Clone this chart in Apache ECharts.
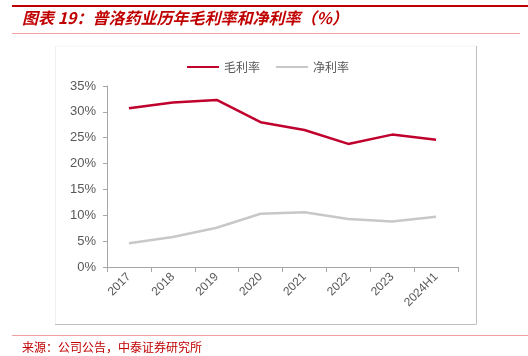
<!DOCTYPE html>
<html><head><meta charset="utf-8">
<script src="https://cdn.jsdelivr.net/npm/echarts@6/dist/echarts.min.js"></script>
<style>html,body{margin:0;padding:0;background:#fff}#c{width:528px;height:356px}</style>
</head><body><div id="c"></div>
<script>
const categories = ['2017','2018','2019','2020','2021','2022','2023','2024H1'];
const grossMargin = [30.7, 31.8, 32.3, 28.0, 26.5, 23.8, 25.6, 24.6];
const netMargin = [4.6, 5.8, 7.6, 10.3, 10.6, 9.3, 8.8, 9.7];
const yTicks = [0, 5, 10, 15, 20, 25, 30, 35];

const chart = echarts.init(document.getElementById('c'), null, {renderer: 'canvas'});
const cjk = '"Noto Sans CJK SC", sans-serif';
chart.setOption({
  animation: false,
  backgroundColor: '#fff',
  graphic: [
    {type: 'rect', shape: {x: 12, y: 5, width: 516, height: 2}, style: {fill: '#c00000'}},
    {type: 'text', left: 22, top: 10, style: {text: '图表 19：普洛药业历年毛利率和净利率（%）', fill: '#c00000', font: 'italic bold 16px ' + cjk}},
    {type: 'rect', shape: {x: 12, y: 33, width: 508, height: 1}, style: {fill: '#f2a0a0'}},
    {type: 'polyline', shape: {points: [[55, 46], [476.5, 46]]}, style: {stroke: '#f4f4f4', lineWidth: 1, fill: null}},
    {type: 'polyline', shape: {points: [[55.5, 46], [55.5, 324.5]]}, style: {stroke: '#f0f0f0', lineWidth: 1, fill: null}},
    {type: 'polyline', shape: {points: [[55, 324.5], [476.5, 324.5], [476.5, 46]]}, style: {stroke: '#bfbfbf', lineWidth: 1, fill: null}},
    {type: 'rect', shape: {x: 12, y: 335, width: 516, height: 1}, style: {fill: '#f2a0a0'}},
    {type: 'text', left: 22, top: 341, style: {text: '来源：公司公告，中泰证券研究所', fill: '#c00000', font: '12px ' + cjk}}
  ],
  legend: {
    top: 56, left: 182,
    itemWidth: 32, itemHeight: 2, itemGap: 16,
    icon: 'rect',
    textStyle: {color: '#595959', fontSize: 12, fontFamily: cjk},
    data: ['毛利率', '净利率']
  },
  grid: {left: 107, right: 70, top: 86, bottom: 89},
  xAxis: {
    type: 'category', data: categories, boundaryGap: true,
    axisLine: {lineStyle: {color: '#a6a6a6'}},
    axisTick: {show: true, length: 5, lineStyle: {color: '#a6a6a6'}},
    axisLabel: {rotate: 45, color: '#595959', fontSize: 12, fontFamily: 'Liberation Sans, Arial', margin: 8}
  },
  yAxis: {
    type: 'value', min: yTicks[0], max: yTicks[yTicks.length - 1], interval: 5,
    splitLine: {show: false},
    axisLine: {show: true, lineStyle: {color: '#a6a6a6'}},
    axisTick: {show: true, length: 4, inside: false, lineStyle: {color: '#a6a6a6'}},
    axisLabel: {color: '#595959', fontSize: 13, fontFamily: 'Liberation Sans, Arial', formatter: v => v + '%', margin: 11}
  },
  series: [
    {name: '毛利率', type: 'line', data: grossMargin, symbol: 'none', lineStyle: {color: '#c0002d', width: 2.5}, itemStyle: {color: '#c0002d'}},
    {name: '净利率', type: 'line', data: netMargin, symbol: 'none', lineStyle: {color: '#c8c8c8', width: 2.5}, itemStyle: {color: '#c8c8c8'}}
  ]
});
</script></body></html>
